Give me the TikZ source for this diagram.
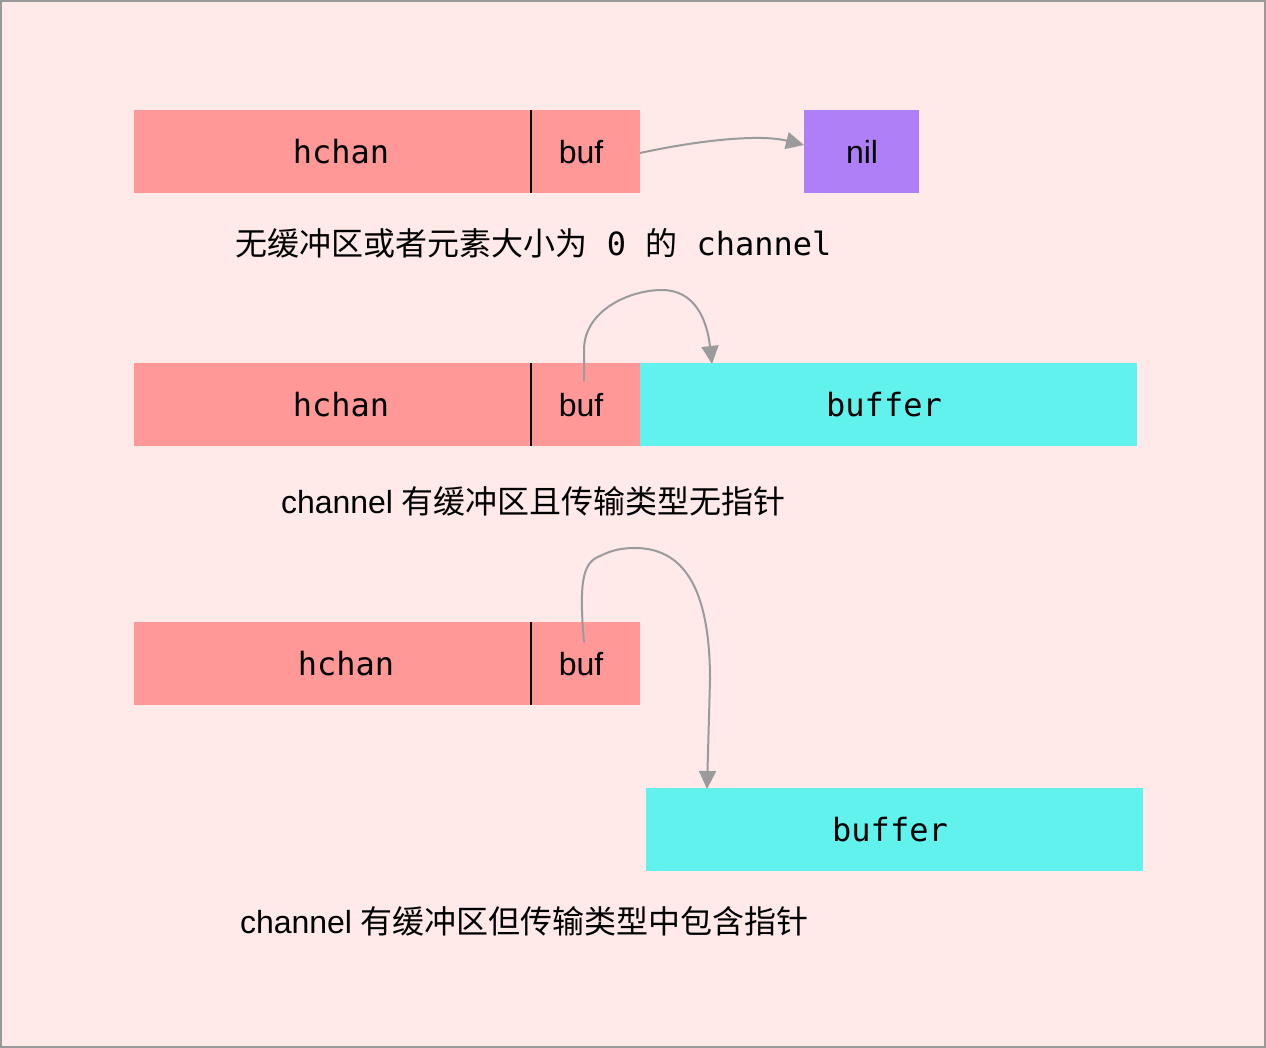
\documentclass[tikz,border=0pt]{standalone}
\usepackage{fontspec}
\setmainfont{Liberation Sans}
\setmonofont{DejaVu Sans Mono}
\newfontfamily\cjk{Noto Sans CJK SC}
\usetikzlibrary{arrows.meta}
\definecolor{bgpink}{HTML}{FFE9E9}
\definecolor{frameg}{HTML}{999999}
\definecolor{salmon}{HTML}{FF9896}
\definecolor{cyanb}{HTML}{61F2EE}
\definecolor{purp}{HTML}{AE7FF6}
\definecolor{arrg}{HTML}{9B9B9B}
\begin{document}
\begin{tikzpicture}[x=1pt,y=-1pt,
  box/.style={draw=none,inner sep=0pt,minimum height=83pt},
  hbox/.style={box,fill=salmon,minimum width=397pt},
  bbox/.style={box,fill=salmon,minimum width=109pt},
  cbox/.style={box,fill=cyanb,minimum width=497pt},
  nbox/.style={box,fill=purp,minimum width=115pt},
  mono/.style={inner sep=0pt,font=\fontsize{32}{36}\selectfont\ttfamily},
  sans/.style={inner sep=0pt,font=\fontsize{32}{36}\selectfont},
  divider/.style={draw=black,line width=2pt},
  ptr/.style={draw=arrg,line width=2pt,-{Triangle[length=18pt,width=17pt]}}]
\useasboundingbox (0,0) rectangle (1266,1048);
\fill[bgpink] (0,0) rectangle (1266,1048);
\draw[frameg,line width=2pt] (1,1) rectangle (1265,1047);
% row 1
\node[hbox] (h1) at (332.5,151.5) {};
\node[bbox] (b1) at (585.5,151.5) {};
\node[nbox] (nil) at (861.5,151.5) {};
\draw[divider] (h1.north east) -- (h1.south east);
\node[mono] (h1t) at (341,152) {hchan};
\node[sans] (b1t) at (581,152) {buf};
\node[sans] (nilt) at (862,152) {nil};
\coordinate (s1) at (640,153);
\coordinate (e1) at (804,145);
\draw[ptr] (s1) .. controls (700,140) and (760,134) .. (e1);
\node[sans] (l1) at (533.5,243) {{\cjk 无缓冲区或者元素大小为}{\ttfamily\ 0\ }{\cjk 的}{\ttfamily\ channel}};
% row 2
\node[hbox] (h2) at (332.5,404.5) {};
\node[bbox] (b2) at (585.5,404.5) {};
\node[cbox] (c2) at (888.5,404.5) {};
\draw[divider] (h2.north east) -- (h2.south east);
\node[mono] (h2t) at (341,405) {hchan};
\node[sans] (b2t) at (581,405) {buf};
\node[mono] (c2t) at (884,405) {buffer};
\coordinate (s2) at (584,381);
\coordinate (e2) at (712,364);
\draw[ptr] (s2) -- (584,350) .. controls (584,310) and (630,290) .. (662,290) .. controls (695,290) and (707,320) .. (e2);
\node[sans] (l2) at (533.5,501) {channel {\cjk 有缓冲区且传输类型无指针}};
% row 3
\node[hbox] (h3) at (332.5,663.5) {};
\node[bbox] (b3) at (585.5,663.5) {};
\draw[divider] (h3.north east) -- (h3.south east);
\node[mono] (h3t) at (346,664) {hchan};
\node[sans] (b3t) at (581,664) {buf};
\node[cbox] (c3) at (894.5,829.5) {};
\node[mono] (c3t) at (890,830) {buffer};
\coordinate (s3) at (584,642);
\coordinate (e3) at (707,789);
\draw[ptr] (s3) .. controls (578,575) and (585,562) .. (600,556) .. controls (612,550) and (622,548) .. (635,548) .. controls (690,548) and (710,600) .. (710,680) -- (e3);
\node[sans] (l3) at (524.5,921) {channel {\cjk 有缓冲区但传输类型中包含指针}};
\end{tikzpicture}
\end{document}
